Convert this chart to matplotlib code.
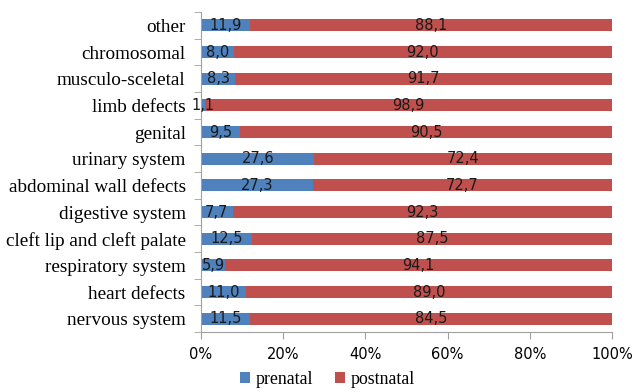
import numpy as np
import matplotlib.pyplot as plt
from matplotlib.ticker import FixedLocator, PercentFormatter

categories = ['nervous system', 'heart defects', 'respiratory system',
              'cleft lip and cleft palate', 'digestive system',
              'abdominal wall defects', 'urinary system', 'genital',
              'limb defects', 'musculo-sceletal', 'chromosomal', 'other']
prenatal = [11.5, 11.0, 5.9, 12.5, 7.7, 27.3, 27.6, 9.5, 1.1, 8.3, 8.0, 11.9]
postnatal = [84.5, 89.0, 94.1, 87.5, 92.3, 72.7, 72.4, 90.5, 98.9, 91.7, 92.0, 88.1]

pre = np.array(prenatal)
post = np.array(postnatal)
total = pre + post
pre_share = pre / total * 100
post_share = post / total * 100

blue = '#4F81BD'
red = '#C0504D'
serif = 'Liberation Serif'

fig = plt.figure(figsize=(6.33, 3.92), dpi=100)
ax = fig.add_axes([0.3175, 0.153, 0.6493, 0.816])

y = np.arange(len(categories))
b1 = ax.barh(y, pre_share, height=0.45, color=blue, label='prenatal')
b2 = ax.barh(y, post_share, left=pre_share, height=0.45, color=red, label='postnatal')

def fmt(v):
    return ('%.1f' % v).replace('.', ',')

for i in range(len(categories)):
    ax.text(pre_share[i] / 2, y[i], fmt(pre[i]), ha='center', va='center',
            fontsize=10.5, color='#1a1a1a')
    ax.text(pre_share[i] + post_share[i] / 2, y[i], fmt(post[i]), ha='center',
            va='center', fontsize=10.5, color='#1a1a1a')

ax.set_xlim(0, 100)
ax.set_ylim(-0.5, len(categories) - 0.5)
ax.set_xticks(np.arange(0, 101, 20))
ax.xaxis.set_major_formatter(PercentFormatter(decimals=0))
ax.set_yticks(y)
ax.set_yticklabels(categories, fontfamily=serif, fontsize=13.8)
ax.yaxis.set_minor_locator(FixedLocator(np.arange(-0.5, len(categories), 1)))
ax.tick_params(axis='y', which='major', length=0, pad=11)
ax.tick_params(axis='y', which='minor', length=5, color='#a0a0a0')
ax.tick_params(axis='x', length=5, color='#a0a0a0', labelsize=10.5, pad=6)

for s in ['top', 'right']:
    ax.spines[s].set_visible(False)
for s in ['left', 'bottom']:
    ax.spines[s].set_color('#a0a0a0')

fig.legend(handles=[b1, b2], loc='lower center', bbox_to_anchor=(0.517, -0.03),
           ncol=2, frameon=False, prop={'family': serif, 'size': 12.8},
           handlelength=0.6, handleheight=0.6, handletextpad=0.3, columnspacing=1.2)

fig.savefig('out.png', dpi=100)
